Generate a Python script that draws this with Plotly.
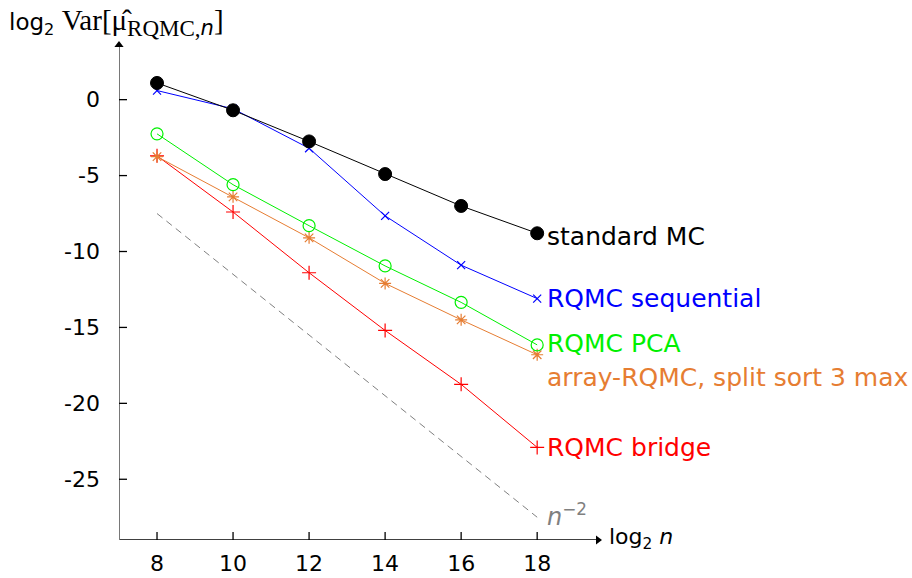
import plotly.graph_objects as go

# log2 of sample size
log2_n = [8, 10, 12, 14, 16, 18]

# log2 of the estimator variance for each method
standard_mc = [1.1, -0.7, -2.75, -4.9, -7.0, -8.8]
rqmc_sequential = [0.6, -0.6, -3.2, -7.65, -10.9, -13.1]
rqmc_pca = [-2.25, -5.6, -8.3, -10.95, -13.35, -16.15]
array_rqmc = [-3.75, -6.4, -9.1, -12.1, -14.5, -16.8]
rqmc_bridge = [-3.7, -7.4, -11.4, -15.2, -18.75, -22.9]

# reference slope n^-2
ref_x = [8, 18]
ref_y = [-7.5, -27.5]

x_ticks = [8, 10, 12, 14, 16, 18]
y_ticks = [0, -5, -10, -15, -20, -25]
y_tick_text = ["0", "-5", "-10", "-15", "-20", "-25"]

X_MIN, X_MAX = 7.0, 19.6
Y_MIN, Y_MAX = -29.0, 3.6

SANS = "DejaVu Sans"
SERIF = "Liberation Serif"
ORANGE = "rgb(230,125,50)"

series = [
    ("RQMC bridge", rqmc_bridge, "rgb(255,0,0)", "cross-thin-open", 10, 1.2),
    ("array-RQMC, split sort 3 max", array_rqmc, ORANGE, "asterisk-open", 10, 1.2),
    ("RQMC PCA", rqmc_pca, "rgb(0,240,0)", "circle-open", 12, 1.2),
    ("RQMC sequential", rqmc_sequential, "rgb(0,0,255)", "x-thin-open", 8, 1.2),
    ("standard MC", standard_mc, "black", "circle", 13, 1),
]

fig = go.Figure()

fig.add_trace(go.Scatter(
    x=ref_x, y=ref_y, mode="lines",
    line=dict(color="gray", width=1, dash="7px,5px"),
    hoverinfo="skip", showlegend=False,
))

for name, vals, color, symbol, size, mlw in series:
    fig.add_trace(go.Scatter(
        x=log2_n, y=vals, mode="lines+markers", name=name,
        line=dict(color=color, width=1),
        marker=dict(symbol=symbol, size=size, color=color,
                    line=dict(color=color, width=mlw)),
        showlegend=False, cliponaxis=False,
    ))

# axis arrowheads at the ends of both axes
fig.add_trace(go.Scatter(
    x=[X_MAX, X_MIN], y=[Y_MIN, Y_MAX], mode="markers",
    marker=dict(symbol=["triangle-right", "triangle-up"], size=8, color="black",
                line=dict(width=0)),
    hoverinfo="skip", showlegend=False, cliponaxis=False,
))

# series labels placed at the right end of each curve
label_shift = {"array-RQMC, split sort 3 max": -23, "standard MC": -3, "RQMC PCA": 1}
annotations = []
for name, vals, color, symbol, size, mlw in series:
    annotations.append(dict(
        x=log2_n[-1], y=vals[-1], xref="x", yref="y", text=name,
        showarrow=False, xanchor="left", yanchor="middle",
        xshift=8, yshift=label_shift.get(name, 0),
        font=dict(family=SANS, size=25, color=color),
    ))
annotations.append(dict(
    x=ref_x[-1], y=ref_y[-1], xref="x", yref="y",
    text="<i>n</i><sup>−2</sup>", showarrow=False,
    xanchor="left", yanchor="middle", xshift=8, yshift=2,
    font=dict(family=SANS, size=24, color="gray"),
))

# axis titles
annotations.append(dict(
    x=X_MAX, y=Y_MIN, xref="x", yref="y", text="log<sub>2</sub> <i>n</i>",
    showarrow=False, xanchor="left", yanchor="middle", xshift=9, yshift=2,
    font=dict(family=SANS, size=22, color="black"),
))
annotations.append(dict(
    x=0, y=1, xref="paper", yref="paper",
    text=("log<sub>2</sub> <span style='font-family:Liberation Serif;font-size:29px'>Var[μ̂"
          "<sub><span style='font-size:23px'>RQMC,</span></sub></span>"
          "<sub><span style='font-size:21px'><i>n</i></span></sub>"
          "<span style='font-family:Liberation Serif;font-size:29px'>]</span>"),
    showarrow=False, xanchor="left", yanchor="bottom", xshift=-112, yshift=2,
    font=dict(family=SANS, size=23, color="black"),
))

shapes = [
    dict(type="line", xref="x", yref="y", x0=X_MIN, x1=X_MAX, y0=Y_MIN, y1=Y_MIN,
         line=dict(color="black", width=1.3), layer="below"),
    dict(type="line", xref="x", yref="y", x0=X_MIN, x1=X_MIN, y0=Y_MIN, y1=Y_MAX,
         line=dict(color="rgb(120,120,120)", width=2), layer="below"),
]
for v in x_ticks:
    shapes.append(dict(type="line", xref="x", yref="y", ysizemode="pixel",
                       yanchor=Y_MIN, x0=v, x1=v, y0=-8, y1=8,
                       line=dict(color="black", width=1.3)))
for v in y_ticks:
    shapes.append(dict(type="line", yref="y", xref="x", xsizemode="pixel",
                       xanchor=X_MIN, y0=v, y1=v, x0=-8, x1=8,
                       line=dict(color="black", width=1.3)))

fig.update_layout(
    width=912, height=578,
    margin=dict(l=119, r=314, t=45, b=38),
    paper_bgcolor="white", plot_bgcolor="white",
    showlegend=False,
    annotations=annotations, shapes=shapes,
    xaxis=dict(range=[X_MIN, X_MAX], showgrid=False, zeroline=False, showline=False,
               tickvals=x_ticks, ticktext=[str(v) for v in x_ticks], ticks="",
               ticklabelstandoff=8, automargin=False,
               tickfont=dict(family=SANS, size=22, color="black")),
    yaxis=dict(range=[Y_MIN, Y_MAX], showgrid=False, zeroline=False, showline=False,
               tickvals=y_ticks, ticktext=y_tick_text, ticks="",
               ticklabelstandoff=18, automargin=False,
               tickfont=dict(family=SANS, size=22, color="black")),
)

fig.write_html("out.html")
